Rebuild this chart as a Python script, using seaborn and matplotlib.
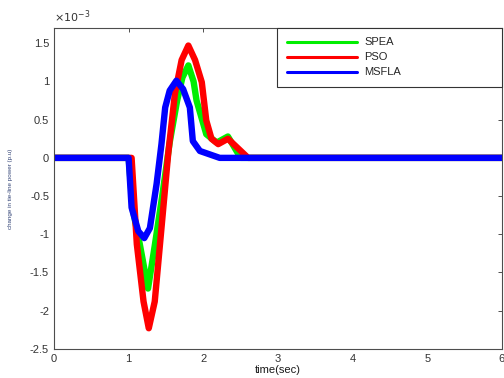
import numpy as np
import pandas as pd
import seaborn as sns
import matplotlib
matplotlib.use("Agg")
import matplotlib.pyplot as plt
from matplotlib.lines import Line2D

# values in units of 1e-3
spea_t = [0, 1.0, 1.06, 1.15, 1.26, 1.35, 1.45, 1.55, 1.65, 1.72, 1.80, 1.87, 1.91, 2.04, 2.18, 2.33, 2.5, 6]
spea_v = [0, 0, -0.7, -1.13, -1.71, -1.15, -0.5, 0.2, 0.75, 1.05, 1.21, 1.0, 0.75, 0.31, 0.2, 0.28, 0, 0]

pso_t = [0, 1.04, 1.11, 1.20, 1.27, 1.35, 1.44, 1.53, 1.62, 1.71, 1.80, 1.89, 1.98, 2.04, 2.11, 2.20, 2.33, 2.6, 6]
pso_v = [0, 0, -1.13, -1.88, -2.23, -1.88, -0.92, 0.05, 0.84, 1.28, 1.47, 1.28, 0.99, 0.49, 0.25, 0.18, 0.25, 0, 0]

msfla_t = [0, 1.0, 1.04, 1.13, 1.21, 1.285, 1.375, 1.44, 1.49, 1.55, 1.64, 1.73, 1.82, 1.86, 1.955, 2.22, 6]
msfla_v = [0, 0, -0.65, -0.96, -1.05, -0.92, -0.34, 0.18, 0.66, 0.88, 1.01, 0.90, 0.66, 0.22, 0.09, 0, 0]

series = ["SPEA", "PSO", "MSFLA"]
colors = ["#00ee00", "#ff0000", "#0000ff"]

df = pd.concat([
    pd.DataFrame({"t": spea_t, "v": spea_v, "s": "SPEA"}),
    pd.DataFrame({"t": pso_t, "v": pso_v, "s": "PSO"}),
    pd.DataFrame({"t": msfla_t, "v": msfla_v, "s": "MSFLA"}),
], ignore_index=True)

sns.set_style("white")
plt.rcParams["font.family"] = ["Liberation Sans", "DejaVu Sans"]

fig = plt.figure(figsize=(5.04, 3.78), dpi=100)
ax = fig.add_axes([0.107, 0.077, 0.889, 0.849])

sns.lineplot(data=df, x="t", y="v", hue="s", hue_order=series, palette=colors,
             sort=False, estimator=None, units="s", linewidth=4.6, ax=ax, legend=False,
             solid_joinstyle="round", solid_capstyle="round")

ax.set_xlim(0, 6)
ax.set_ylim(-2.5, 1.7)
ax.set_xticks([0, 1, 2, 3, 4, 5, 6])
ax.set_yticks([-2.5, -2, -1.5, -1, -0.5, 0, 0.5, 1, 1.5])
ax.set_yticklabels(["-2.5", "-2", "-1.5", "-1", "-0.5", "0", "0.5", "1", "1.5"])
ax.tick_params(direction="in", length=3, width=0.6, labelsize=8, colors="0.2",
               top=True, right=True)
for sp in ax.spines.values():
    sp.set_color("0.3")
    sp.set_linewidth(0.8)

ax.set_xlabel("time(sec)", fontsize=8, labelpad=1, color="0.1")
ax.set_ylabel("change in tie-line power (p.u)", fontsize=4.5, color="#334477", labelpad=12)
fig.text(0.107, 0.935, r"$\times10^{-3}$", fontsize=8, color="0.2", ha="left", va="bottom")

handles = [Line2D([], [], color=c, linewidth=2.2) for c in colors]
leg = ax.legend(handles, series, loc="upper left", bbox_to_anchor=(0.498, 1.0, 0.502, 0.0),
                mode="expand", borderaxespad=0, fontsize=8, handlelength=6.3,
                fancybox=False, framealpha=1, edgecolor="0.2", labelspacing=0.45,
                borderpad=0.85, handletextpad=0.7)
leg.get_frame().set_linewidth(0.8)

fig.savefig("out.png", dpi=100)
